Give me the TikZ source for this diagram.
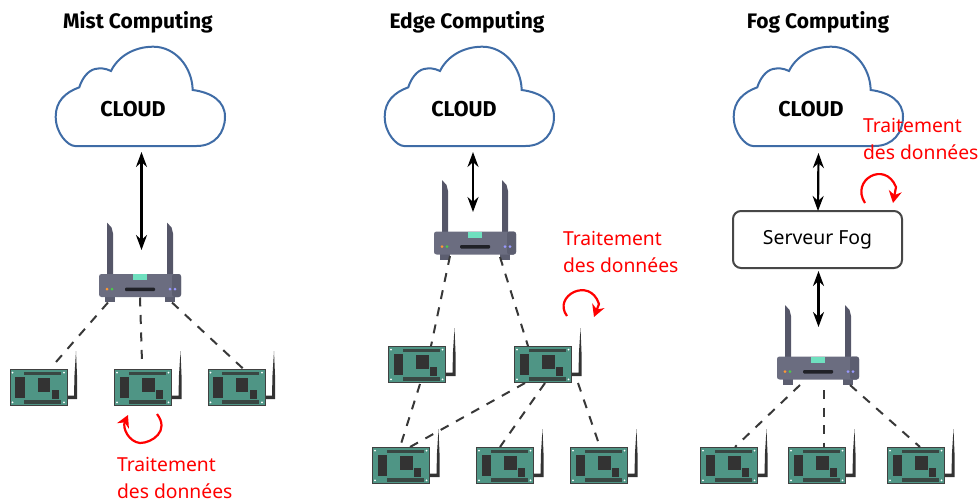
\documentclass[tikz,border=0pt]{standalone}
\usepackage{fontspec}
\setmainfont{Noto Sans}
\newfontfamily\headfont{Fira Sans}[UprightFont=* Bold]
\usetikzlibrary{calc,arrows.meta}
\definecolor{cloudblue}{HTML}{3F6CA6}
\definecolor{rbody}{HTML}{6B6D80}
\definecolor{rdark}{HTML}{5C5E70}
\definecolor{rant}{HTML}{555668}
\definecolor{rmint}{HTML}{6FE0BF}
\definecolor{bteal}{HTML}{4F9585}
\definecolor{bdark}{HTML}{333333}
\tikzset{
  every node/.style={inner sep=0pt,outer sep=0pt},
  title/.style={font=\fontsize{21}{24}\selectfont\headfont},
  cloudtext/.style={font=\fontsize{21.5}{24}\selectfont\headfont},
  redtext/.style={text=red,font=\fontsize{19.3}{27}\selectfont,align=left,anchor=west},
  dual/.style={black,line width=2.2pt,{Stealth[length=15pt,width=11pt]}-{Stealth[length=15pt,width=11pt]}},
  link/.style={draw=black!78,line width=2pt,dash pattern=on 9pt off 8.5pt},
  loop/.style={red,line width=2.2pt,-{Stealth[length=12pt,width=13pt]}},
  cloud outline/.style={draw=cloudblue,line width=2pt,fill=white},
  server/.style={draw=black!72,line width=2pt,rounded corners=8pt,fill=white,minimum width=169pt,minimum height=57pt,font=\fontsize{19.4}{22}\selectfont},
  pics/cloudshape/.style={code={
    \coordinate (-c) at (0,0);
    \path[cloud outline] (-65,49.5) -- (56.7,49.5)
      .. controls (75,49.5) and (85,36) .. (85,20.2)
      .. controls (85,5) and (72,-4) .. (52.7,-6.5)
      .. controls (52,-30) and (35,-49.8) .. (13.3,-49.8)
      .. controls (-6,-49.8) and (-22,-40) .. (-29,-25.5)
      .. controls (-35,-28.5) and (-40,-28.5) .. (-45,-27.5)
      .. controls (-52,-26) and (-58,-18) .. (-60.7,-9.2)
      .. controls (-75,-4) and (-84.3,5) .. (-84.3,20.2)
      .. controls (-84.3,37) and (-72,49.5) .. (-65,49.5) -- cycle;
  }},
  pics/router/.style={code={
    \coordinate (-c) at (0,0);
    \coordinate (-sw) at (-32,17);
    \coordinate (-s) at (0,12);
    \coordinate (-se) at (32,17);
    \fill[rant] (-33,-11) -- (-33,-63) -- (-28.5,-58) -- (-27,-52) -- (-27,-11) -- cycle;
    \fill[rant] (27,-11) -- (27,-63) -- (31.5,-58) -- (33,-52) -- (33,-11) -- cycle;
    \fill[rdark] (-35,11) rectangle (-25,16.5);
    \fill[rdark] (25,11) rectangle (35,16.5);
    \fill[rbody,rounded corners=2.5pt] (-41,-11.5) rectangle (41,11.5);
    \fill[rdark,rounded corners=2.5pt] (32,-11.5) rectangle (41,11.5);
    \fill[rmint] (-7,-11.5) rectangle (7,-5.5);
    \fill[black!70!rbody,rounded corners=1pt] (-15,2) rectangle (15,5.5);
    \fill[orange!80] (-33,3.7) circle (1.5pt);
    \fill[green!70!black!70] (-28,3.7) circle (1.5pt);
    \fill[blue!40!white] (30,3.7) circle (1.5pt);
    \fill[blue!40!white] (35,3.7) circle (1.5pt);
  }},
  pics/board/.style={code={
    \coordinate (-c) at (0,0);
    \fill[bdark] (35.5,8.5) -- (28,8.5) -- (28,12) -- (38.5,12) -- (38.5,-12) -- (37.5,-36) -- (36,-12) -- cycle;
    \fill[bteal,draw=black!75,line width=1pt] (-28.5,-18) rectangle (28.5,18);
    \fill[bdark] (-23.3,-9.7) rectangle (-14,10.7);
    \fill[bdark] (-0.6,-8.7) rectangle (11.7,5.3);
    \fill[bdark] (13.4,3) rectangle (20,12);
    \fill[bdark!80!bteal] (-14.3,-15.3) rectangle (22.7,-12);
    \fill[bdark!80!bteal] (-14.3,13) rectangle (22.7,16.5);
    \foreach \px/\py in {-26/-14.3,25.5/-14.3,-26/15.3,25.5/15.3}{\fill[white] (\px,\py) circle (1pt);}
  }},
}
\begin{document}
\begin{tikzpicture}[x=1pt,y=-1pt]
\useasboundingbox (0,0) rectangle (980,503);
% titles
\node[title] (t1) at (138,22) {Mist Computing};
\node[title] (t2) at (467,22) {Edge Computing};
\node[title] (t3) at (818,22) {Fog Computing};
% clouds
\pic (c1) at (140,96.5) {cloudshape};
\pic (c2) at (469,96.5) {cloudshape};
\pic (c3) at (818,96.5) {cloudshape};
\node[cloudtext] (l1) at (133,109) {CLOUD};
\node[cloudtext] (l2) at (464,109) {CLOUD};
\node[cloudtext] (l3) at (811,109) {CLOUD};
% routers
\pic (r1) at (140,285.5) {router};
\pic (r2) at (475,243) {router};
\pic (r3) at (818,368) {router};
% server
\node[server] (srv) at (817.5,239.5) {\raisebox{-2pt}{Serveur Fog}};
% boards
\pic (b1) at (38.5,387) {board};
\pic (b2) at (143,387) {board};
\pic (b3) at (236.5,387) {board};
\pic (e1) at (417,364) {board};
\pic (e2) at (543,364) {board};
\pic (e3) at (401,465) {board};
\pic (e4) at (505,465) {board};
\pic (e5) at (599,465) {board};
\pic (f1) at (729,465) {board};
\pic (f2) at (817,465) {board};
\pic (f3) at (916,465) {board};
% dual arrows
\draw[dual] ($(c1-c)+(1.5,55.5)$) -- ($(r1-c)+(1.5,-35.5)$);
\draw[dual] ($(c2-c)+(4,55.5)$) -- ($(r2-c)+(-2,-31)$);
\draw[dual] ($(c3-c)+(0.5,56.5)$) -- (srv.north -| c3-c);
\draw[dual] (srv.south -| c3-c) ++(0.5,3) -- ($(r3-c)+(0.5,-41)$);
% links
\draw[link] (r1-sw) -- ($(b1-c)+(14,-21)$);
\draw[link] (r1-s) -- ($(b2-c)+(-1,-25)$);
\draw[link] (r1-se) -- ($(b3-c)+(7,-18)$);
\draw[link] ($(r2-c)+(-25,13)$) -- ($(e1-c)+(14,-18)$);
\draw[link] ($(r2-c)+(25,14)$) -- ($(e2-c)+(-15,-18)$);
\draw[link] ($(e1-c)+(3,20)$) -- ($(e3-c)+(-1,-18)$);
\draw[link] ($(e2-c)+(-18,19)$) -- ($(e3-c)+(9,-18)$);
\draw[link] ($(e2-c)+(2,19)$) -- ($(e4-c)+(-5,-18)$);
\draw[link] ($(e2-c)+(35,19)$) -- ($(e5-c)+(1,-18)$);
\draw[link] ($(r3-c)+(-18,17)$) -- ($(f1-c)+(6,-18)$);
\draw[link] ($(r3-c)+(6,22)$) -- ($(f2-c)+(7,-18)$);
\draw[link] ($(r3-c)+(32,17)$) -- ($(f3-c)+(4,-18)$);
% loops
\coordinate (m1) at (157,414);
\coordinate (m2) at (128,415);
\draw[loop] (m1) .. controls (170,431) and (152,443) .. (140,443) .. controls (129,442) and (122,428) .. (128,415);
\coordinate (d1) at (567,316);
\coordinate (d2) at (594,317);
\draw[loop] (d1) .. controls (552,296) and (590,276) .. (599,304) -- (d2);
\coordinate (g1) at (865,203);
\coordinate (g2) at (893,203);
\draw[loop] (g1) .. controls (850,180) and (885,160) .. (896,187) -- (g2);
% red text
\node[redtext] (x1) at (117,477.5) {Traitement\\des données};
\node[redtext] (x2) at (563,252) {Traitement\\des données};
\node[redtext] (x3) at (863,139) {Traitement\\des données};
\end{tikzpicture}
\end{document}
